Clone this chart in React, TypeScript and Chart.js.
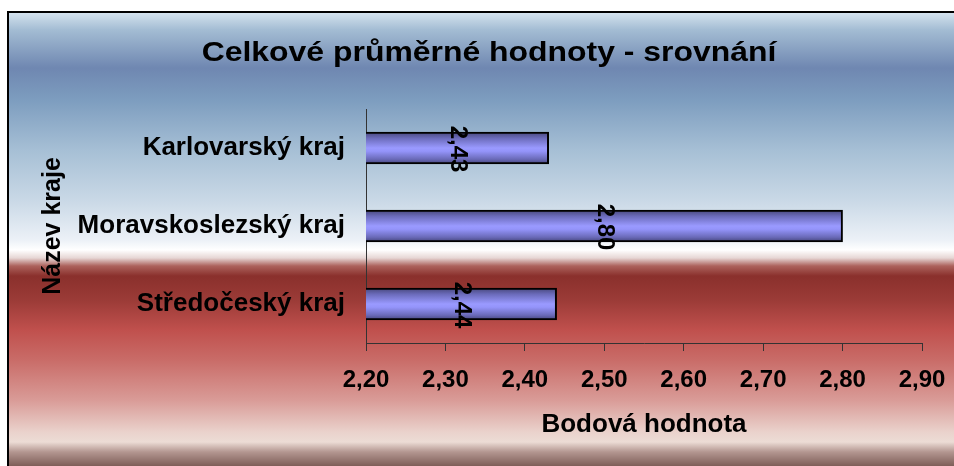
import React, { useEffect, useRef } from 'react';
import { Chart, registerables } from 'chart.js';

Chart.register(...registerables);

const categories: string[] = ['Karlovarský kraj', 'Moravskoslezský kraj', 'Středočeský kraj'];
const values: number[] = [2.43, 2.8, 2.44];
const xTicks: number[] = [2.2, 2.3, 2.4, 2.5, 2.6, 2.7, 2.8, 2.9];
const chartTitle = 'Celkové průměrné hodnoty - srovnání';
const xAxisTitle = 'Bodová hodnota';
const yAxisTitle = 'Název kraje';

const fmt = (v: number) => v.toFixed(2).replace('.', ',');
const FONT = '"Liberation Sans", Arial, sans-serif';

const bgStops: [number, string][] = [
  [12, '#d6e4ef'],
  [30, '#a3bcd3'],
  [68, '#6f87b1'],
  [100, '#7d9dbf'],
  [150, '#a6bfd5'],
  [200, '#c9d8e6'],
  [240, '#ecf1f7'],
  [250, '#ffffff'],
  [258, '#e6d6d4'],
  [266, '#ac625c'],
  [276, '#8a302c'],
  [300, '#9b3b37'],
  [330, '#c0504d'],
  [360, '#c96c68'],
  [400, '#d99b97'],
  [432, '#ead2cc'],
  [442, '#ecdcd5'],
  [452, '#b39690'],
  [466, '#7e5e58'],
];

const backgroundPlugin = {
  id: 'bgPlugin',
  beforeDraw(chart: any) {
    const { ctx, width, height } = chart;
    ctx.save();
    ctx.fillStyle = '#ffffff';
    ctx.fillRect(0, 0, width, height);
    const top = 12;
    const g = ctx.createLinearGradient(0, top, 0, height);
    bgStops.forEach(([y, c]) => g.addColorStop(Math.min(1, Math.max(0, (y - top) / (height - top))), c));
    ctx.fillStyle = g;
    ctx.fillRect(8, top, width - 8, height - top);
    ctx.fillStyle = '#000000';
    ctx.fillRect(7, 11, width - 7, 2);
    ctx.fillRect(7, 11, 2, height - 11);
    ctx.fillStyle = '#000000';
    ctx.font = `bold 28px ${FONT}`;
    ctx.textAlign = 'center';
    ctx.textBaseline = 'alphabetic';
    ctx.translate(489, 61);
    ctx.scale(1.14, 1);
    ctx.fillText(chartTitle, 0, 0);
    ctx.restore();
  },
};

const labelPlugin = {
  id: 'valueLabels',
  afterDraw(chart: any) {
    const { ctx } = chart;
    const xs = chart.scales.x;
    const ys = chart.scales.y;
    if (!xs || !ys) return;
    ctx.save();
    ctx.fillStyle = '#000000';
    ctx.font = `bold 24px ${FONT}`;
    ctx.textAlign = 'center';
    ctx.textBaseline = 'middle';
    values.forEach((v, i) => {
      const cx = (xs.getPixelForValue(v) + xs.getPixelForValue(xs.min)) / 2;
      const cy = ys.getPixelForValue(i) + 1;
      ctx.save();
      ctx.translate(cx, cy);
      ctx.rotate(Math.PI / 2);
      ctx.fillText(fmt(v), 0, 0);
      ctx.restore();
    });
    ctx.restore();
  },
};

export default function App() {
  const ref = useRef<HTMLCanvasElement>(null);
  useEffect(() => {
    if (!ref.current) return;
    const barThickness = 32;
    const chart = new Chart(ref.current, {
      type: 'bar',
      data: {
        labels: categories,
        datasets: [
          {
            data: values,
            backgroundColor: (c: any) => {
              const ch = c.chart;
              const ys = ch.scales && ch.scales.y;
              if (!ys || c.dataIndex === undefined || !ch.chartArea) return '#9999ff';
              const cy = ys.getPixelForValue(c.dataIndex);
              const t = cy - barThickness / 2;
              const g = ch.ctx.createLinearGradient(0, t, 0, t + barThickness);
              g.addColorStop(0, '#46467a');
              g.addColorStop(0.2, '#6c6cbc');
              g.addColorStop(0.5, '#9a9aff');
              g.addColorStop(0.6, '#9494fa');
              g.addColorStop(0.85, '#6a6ab8');
              g.addColorStop(1, '#44447a');
              return g;
            },
            borderColor: '#000000',
            borderWidth: 2,
            borderSkipped: false,
            barThickness,
          } as any,
        ],
      },
      options: {
        indexAxis: 'y',
        animation: false,
        responsive: false,
        devicePixelRatio: 1,
        layout: { padding: { top: 109, left: 0, right: 0, bottom: 0 } },
        plugins: {
          legend: { display: false },
          title: { display: false },
          tooltip: { enabled: false },
        },
        scales: {
          x: {
            type: 'linear',
            min: xTicks[0],
            max: xTicks[xTicks.length - 1],
            afterBuildTicks: (s: any) => {
              s.ticks = xTicks.map((v) => ({ value: v }));
            },
            afterFit: (s: any) => {
              s.height = 123;
              s.paddingRight = 32;
              s.paddingLeft = 0;
            },
            ticks: {
              callback: (v: any) => fmt(Number(v)),
              color: '#000000',
              font: { family: FONT, size: 24, weight: 'bold' },
              padding: 15,
              maxRotation: 0,
              autoSkip: false,
            },
            grid: { display: true, drawOnChartArea: false, drawTicks: true, tickLength: 8, color: '#333333', lineWidth: 1 },
            border: { display: true, color: '#333333', width: 1 },
            title: {
              display: true,
              text: xAxisTitle,
              color: '#000000',
              font: { family: FONT, size: 26, weight: 'bold' },
              padding: { top: 0, bottom: 26 },
            },
          },
          y: {
            type: 'category',
            afterFit: (s: any) => {
              s.width = 366;
            },
            ticks: {
              color: '#000000',
              font: { family: FONT, size: 26, weight: 'bold' },
              padding: 21,
              autoSkip: false,
            },
            grid: { display: false, drawTicks: false },
            border: { display: true, color: '#333333', width: 1 },
            title: {
              display: true,
              text: yAxisTitle,
              color: '#000000',
              font: { family: FONT, size: 25, weight: 'bold' },
              padding: { top: 38, bottom: 0 },
            },
          },
        },
      } as any,
      plugins: [backgroundPlugin, labelPlugin],
    });
    return () => chart.destroy();
  }, []);
  return (
    <div style={{ position: 'absolute', left: 0, top: 0, width: 954, height: 466 }}>
      <canvas ref={ref} width={954} height={466} style={{ width: 954, height: 466, display: 'block' }} />
    </div>
  );
}
